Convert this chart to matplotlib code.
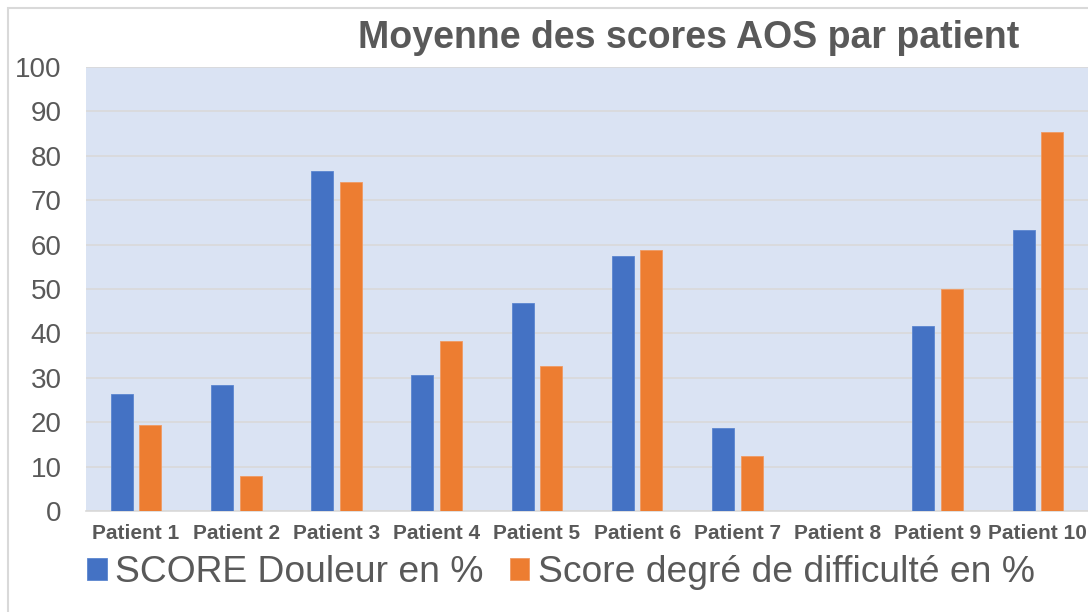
import numpy as np
import matplotlib
matplotlib.use("Agg")
import matplotlib.pyplot as plt
from matplotlib.patches import Rectangle

plt.rcParams['font.family'] = ['Liberation Sans', 'DejaVu Sans']

# Data
patients = ['Patient 1', 'Patient 2', 'Patient 3', 'Patient 4', 'Patient 5',
            'Patient 6', 'Patient 7', 'Patient 8', 'Patient 9', 'Patient 10']
douleur = [26.4, 28.4, 76.6, 30.6, 46.8, 57.4, 18.8, 0, 41.7, 63.4]
difficulte = [19.3, 7.9, 74.0, 38.4, 32.6, 58.8, 12.5, 0, 50.0, 85.4]
labels = ['SCORE Douleur en %', 'Score degré de difficulté en %']

blue = '#4472C4'
orange = '#ED7D31'
text_gray = '#595959'
grid_gray = '#D9D9D9'

W, H = 1088, 612
fig = plt.figure(figsize=(W / 100, H / 100), dpi=100)
ax = fig.add_axes([86 / W, 1 - 511 / H, 1 - 86 / W, (511 - 67) / H])
ax.set_facecolor('#DAE3F3')

x = np.arange(len(patients))
width = 0.22
off = 0.142
ax.bar(x - off, douleur, width, color=blue, edgecolor='#5B86D0', linewidth=0.6,
       label=labels[0], zorder=3)
ax.bar(x + off, difficulte, width, color=orange, edgecolor='#F09A63', linewidth=0.6,
       label=labels[1], zorder=3)

ax.set_xlim(-0.5, 9.5)
ax.set_ylim(0, 100)
ax.set_yticks(np.arange(0, 101, 10))
ax.set_xticks(x)
ax.set_xticklabels(patients, fontsize=15, fontweight='bold', color=text_gray)
ax.tick_params(axis='y', labelsize=20, labelcolor=text_gray, length=0, pad=17.5)
ax.tick_params(axis='x', length=0, pad=9.5)
ax.yaxis.grid(True, color=grid_gray, linewidth=1.2, zorder=0)
ax.set_axisbelow(True)
for s in ['top', 'right', 'left']:
    ax.spines[s].set_visible(False)
ax.spines['bottom'].set_color(grid_gray)
ax.spines['bottom'].set_linewidth(1.2)

# title
fig.text(689 / W, 1 - 47.5 / H, 'Moyenne des scores AOS par patient',
         ha='center', va='baseline', fontsize=27, fontweight='bold', color=text_gray)

# legend
leg = fig.legend(loc='center', bbox_to_anchor=(561 / W, 1 - 573 / H), ncol=2,
                 frameon=False, fontsize=26.8, handlelength=0.52, handleheight=0.52,
                 handletextpad=0.23, columnspacing=0.69, borderpad=0, borderaxespad=0)
for t in leg.get_texts():
    t.set_color(text_gray)

# chart border (cropped on right and bottom)
fig.add_artist(Rectangle((8 / W, -0.1), 1.2, 1.1 - 8 / H, transform=fig.transFigure,
                         fill=False, edgecolor=grid_gray, linewidth=1.5, clip_on=False))

fig.savefig('out.png', dpi=100)
